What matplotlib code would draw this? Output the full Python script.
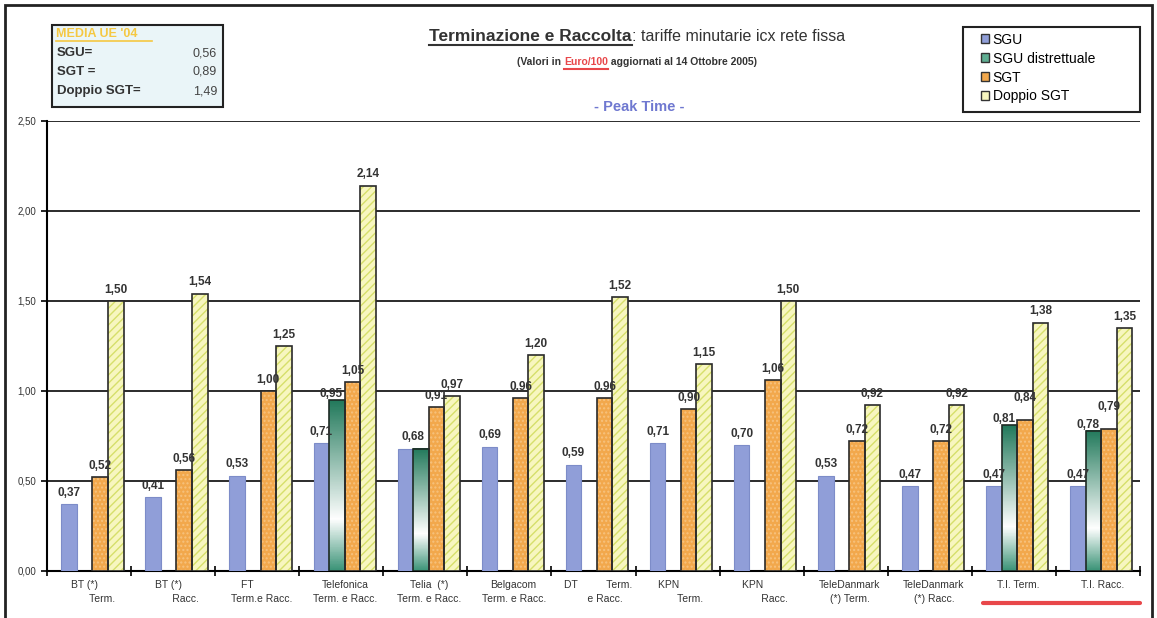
import numpy as np
import matplotlib
matplotlib.use("Agg")
import matplotlib.pyplot as plt
from matplotlib.patches import Rectangle, Patch
from matplotlib.colors import LinearSegmentedColormap

plt.rcParams['font.family'] = ['Liberation Sans', 'DejaVu Sans']

groups = ["BT (*)      \n      Term.", "BT (*)      \n      Racc.", "FT          \nTerm.e Racc.",
          "Telefonica\nTerm. e Racc.", "Telia  (*)\nTerm. e Racc.", "Belgacom\nTerm. e Racc.",
          "DT          Term.\n     e Racc.", "KPN         \n      Term.", "KPN         \n      Racc.",
          "TeleDanmark\n(*) Term.", "TeleDanmark\n(*) Racc.", "T.I. Term.\n", "T.I. Racc.\n"]
sgu = [0.37, 0.41, 0.53, 0.71, 0.68, 0.69, 0.59, 0.71, 0.70, 0.53, 0.47, 0.47, 0.47]
sgu_distr = [None, None, None, 0.95, 0.68, None, None, None, None, None, None, 0.81, 0.78]
sgt = [0.52, 0.56, 1.00, 1.05, 0.91, 0.96, 0.96, 0.90, 1.06, 0.72, 0.72, 0.84, 0.79]
doppio = [1.50, 1.54, 1.25, 2.14, 0.97, 1.20, 1.52, 1.15, 1.50, 0.92, 0.92, 1.38, 1.35]
media_labels = ["SGU=", "SGT =", "Doppio SGT="]
media_values = ["0,56", "0,89", "1,49"]

W, H = 1157, 618
fig = plt.figure(figsize=(W / 100, H / 100), dpi=100)
fig.patch.set_facecolor('white')

def fx(px):
    return px / W

def fy(py):
    return 1 - py / H

def fmt(v):
    return f"{v:.2f}".replace('.', ',')

# outer frame
fig.add_artist(Rectangle((fx(5), -0.01), fx(1147), fy(5) + 0.01, transform=fig.transFigure,
                         fill=False, edgecolor='#222222', lw=2))

ax = fig.add_axes([fx(47), fy(571), fx(1140 - 47), fy(121) - fy(571)])
n = len(groups)
x = np.arange(n)
bw = 0.185
shift = 0.04

c_sgu = '#909ed8'
c_sgt = '#f2a84c'
c_dop = '#f7f6bf'
teal = LinearSegmentedColormap.from_list('teal', [(0, '#3c9478'), (0.3, '#ffffff'), (1.0, '#237a5c')])
lab_kw = dict(ha='center', va='bottom', fontsize=8.5, fontweight='bold', color='#333333', zorder=5)

for i in range(n):
    base = i + shift - 1.5 * bw
    d = sgu_distr[i]
    # SGU
    ax.bar(base, sgu[i], bw, color=c_sgu, edgecolor='#7d8cc8', lw=0.8, zorder=3)
    if d is not None and abs(d - sgu[i]) < 1e-9:
        ax.text(base + bw / 2, sgu[i] + 0.03, fmt(sgu[i]), **lab_kw)
    else:
        ax.text(base, sgu[i] + 0.03, fmt(sgu[i]), **lab_kw)
    # SGU distrettuale
    raise_sgt = 0.0
    if d is not None:
        xd = base + bw
        ax.imshow(np.linspace(0, 1, 100).reshape(-1, 1), cmap=teal, aspect='auto', origin='lower',
                  extent=[xd - bw / 2, xd + bw / 2, 0, d], zorder=3)
        ax.bar(xd, d, bw, fill=False, edgecolor='#1e2a24', lw=1.2, zorder=4)
        if abs(d - sgu[i]) > 1e-9:
            ax.text(xd - 0.07, d + 0.0, fmt(d), **lab_kw)
        if sgt[i] - d < 0.1:
            raise_sgt = 0.06
    # SGT
    xs = base + 2 * bw
    ax.bar(xs, sgt[i], bw, color=c_sgt, edgecolor='#f7c27e', hatch='....', lw=0, zorder=3)
    ax.bar(xs, sgt[i], bw, fill=False, edgecolor='#2a2a2a', lw=1.2, zorder=4)
    ax.text(xs, sgt[i] + 0.03 + raise_sgt, fmt(sgt[i]), **lab_kw)
    # Doppio SGT
    xp = base + 3 * bw
    ax.bar(xp, doppio[i], bw, color=c_dop, edgecolor='#d6df6a', hatch='////', lw=0, zorder=3)
    ax.bar(xp, doppio[i], bw, fill=False, edgecolor='#2a2a2a', lw=1.2, zorder=4)
    ax.text(xp, doppio[i] + 0.03, fmt(doppio[i]), **lab_kw)

ax.set_xlim(-0.5, n - 0.5)
ax.set_ylim(0, 2.5)
yt = [0, 0.5, 1.0, 1.5, 2.0, 2.5]
ax.set_yticks(yt)
ax.set_yticklabels([fmt(v) for v in yt], fontsize=7, color='#333333')
ax.yaxis.grid(True, color='#1a1a1a', lw=1.3, zorder=1)
ax.set_axisbelow(True)
for s in ['top', 'right']:
    ax.spines[s].set_visible(False)
ax.spines['left'].set_linewidth(1.5)
ax.spines['bottom'].set_linewidth(1.5)
ax.set_xticks(np.arange(n + 1) - 0.5)
ax.set_xticklabels([])
ax.tick_params(axis='x', direction='inout', length=7, width=1.2)
ax.tick_params(axis='y', direction='out', length=4, width=1.2, pad=4)

for i, g in enumerate(groups):
    ax.text(i + 0.05, -0.05, g, ha='center', va='top', fontsize=7.5, color='#333333',
            linespacing=1.55, clip_on=False)

# red underline below T.I.
fig.add_artist(plt.Line2D([fx(983), fx(1140)], [fy(603), fy(603)], color='#e8474a', lw=3,
                          solid_capstyle='round'))

# legend
fig.add_artist(Rectangle((fx(963), fy(112)), fx(177), fy(27) - fy(112), transform=fig.transFigure,
                         facecolor='white', edgecolor='#222222', lw=1.5))
handles = [Patch(facecolor=c_sgu, edgecolor='#333333'),
           Patch(facecolor='#5fae92', edgecolor='#333333'),
           Patch(facecolor=c_sgt, edgecolor='#333333'),
           Patch(facecolor=c_dop, edgecolor='#333333')]
leg = fig.legend(handles, ["SGU", "SGU distrettuale", "SGT", "Doppio SGT"],
                 loc='upper left', bbox_to_anchor=(fx(978), fy(30)), fontsize=10,
                 frameon=False, handlelength=0.6, handleheight=0.6, handletextpad=0.25,
                 labelspacing=0.35, borderpad=0.2, borderaxespad=0)

# media box
fig.add_artist(Rectangle((fx(52), fy(107)), fx(171), fy(25) - fy(107), transform=fig.transFigure,
                         facecolor='#eaf5f8', edgecolor='#222222', lw=1.5))
fig.text(fx(56), fy(34), "MEDIA UE '04", fontsize=9, fontweight='bold', color='#f5c842',
         va='center', ha='left')
fig.add_artist(plt.Line2D([fx(56), fx(152)], [fy(41), fy(41)], color='#f5c842', lw=1.2))
for k, (lab, val) in enumerate(zip(media_labels, media_values)):
    yy = fy(53 + k * 19)
    fig.text(fx(57), yy, lab, fontsize=9.5, fontweight='bold', color='#333333', va='center')
    fig.text(fx(217), yy, val, fontsize=9, color='#444444', va='center', ha='right')

# titles
fig.canvas.draw()
r = fig.canvas.get_renderer()

def pieces(parts, cx, py, underline):
    texts = []
    for s, kw in parts:
        texts.append(fig.text(0, fy(py), s, va='baseline', ha='left', **kw))
    widths = [t.get_window_extent(r).width for t in texts]
    x0 = cx - sum(widths) / 2
    for t, w, u in zip(texts, widths, underline):
        t.set_x(x0 / W)
        if u:
            fig.add_artist(plt.Line2D([x0 / W, (x0 + w) / W], [fy(py + 4), fy(py + 4)],
                                      color=t.get_color(), lw=1.5))
        x0 += w

pieces([("Terminazione e Raccolta", dict(fontsize=12.5, fontweight='bold', color='#333333')),
        (": tariffe minutarie icx rete fissa", dict(fontsize=11.5, color='#333333'))],
       637, 41, [True, False])
pieces([("(Valori in ", dict(fontsize=7.5, fontweight='bold', color='#333333')),
        ("Euro/100", dict(fontsize=7.5, fontweight='bold', color='#e8474a')),
        (" aggiornati al 14 Ottobre 2005)", dict(fontsize=7.5, fontweight='bold', color='#333333'))],
       637, 65, [False, True, False])
fig.text(fx(639), fy(107), "- Peak Time -", fontsize=10.5, fontweight='bold', color='#6f78d0',
         ha='center', va='center')

fig.savefig("out.png", dpi=100, facecolor='white')
